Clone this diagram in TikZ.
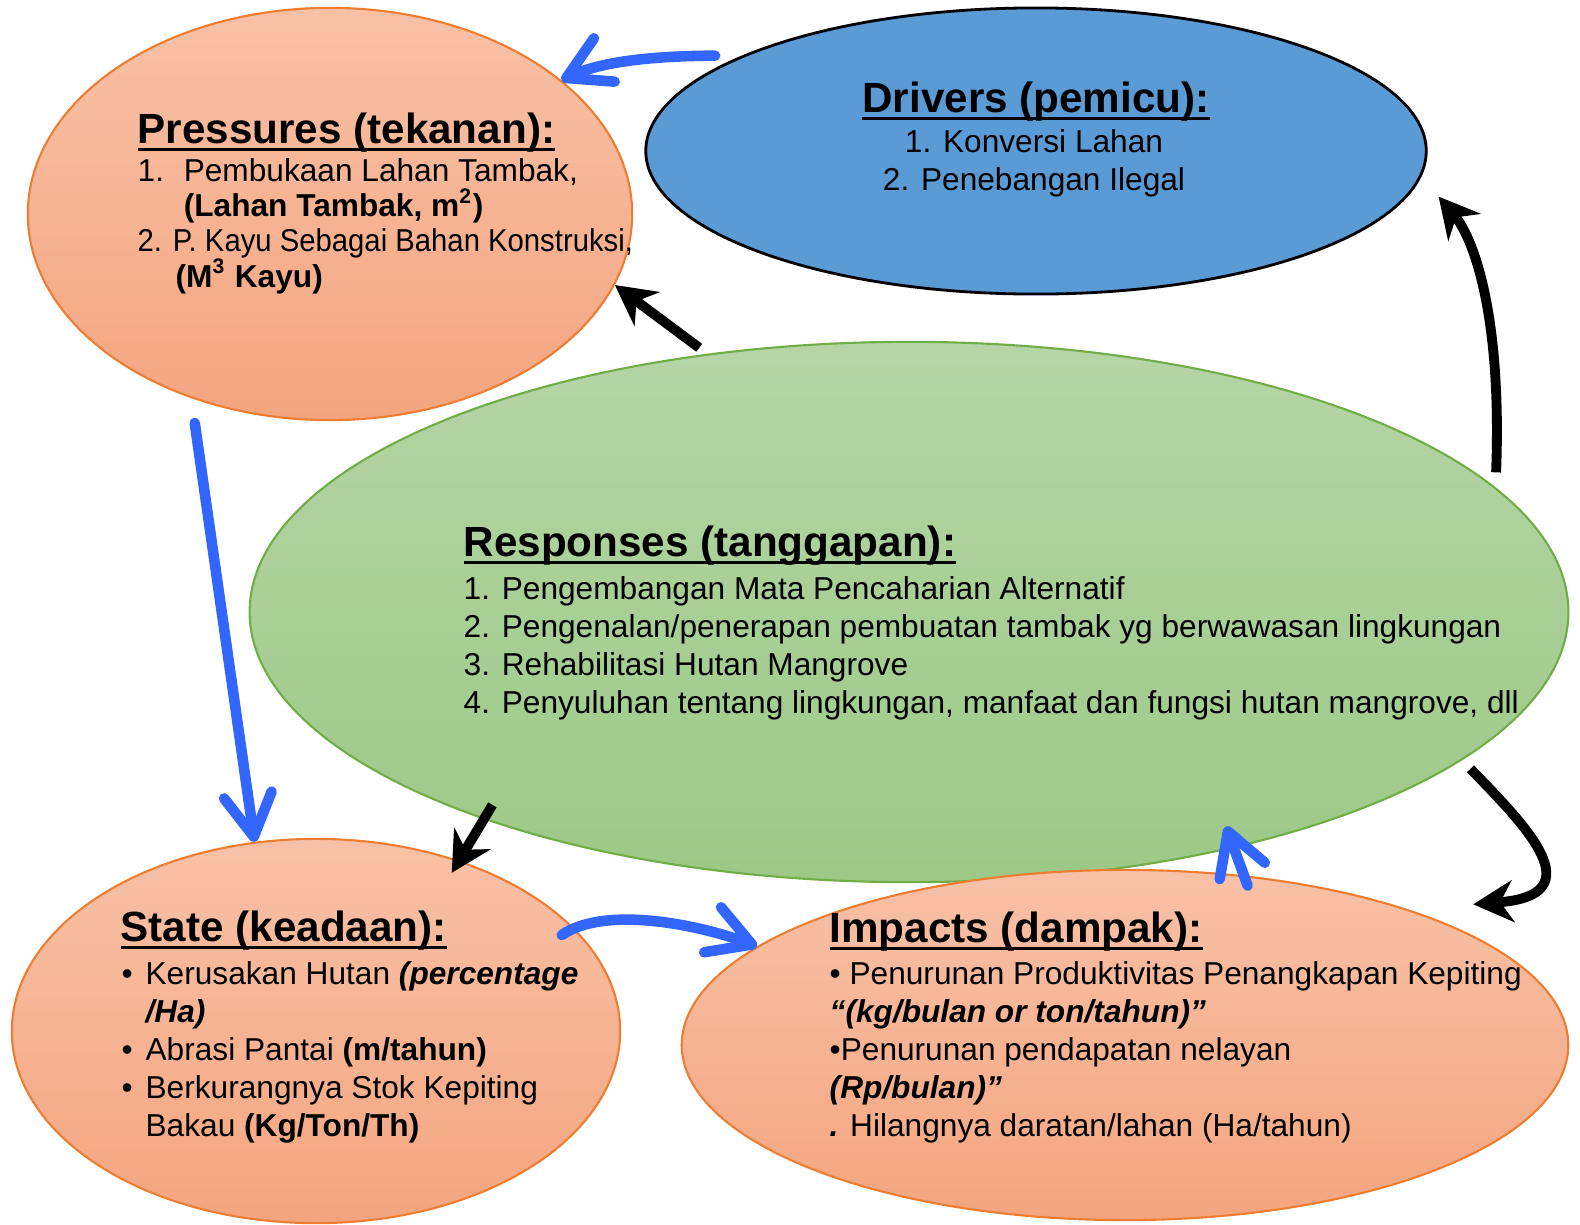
\documentclass[tikz,border=0pt]{standalone}
\usepackage{fontspec}
\usepackage{graphicx}
\setmainfont{Liberation Sans}
\usetikzlibrary{shapes.geometric,arrows.meta}

\definecolor{oranyeAtas}{HTML}{F8C1A7}
\definecolor{oranyeBawah}{HTML}{F4A57F}
\definecolor{oranyeGaris}{HTML}{ED7D31}
\definecolor{hijauAtas}{HTML}{B5D5A6}
\definecolor{hijauBawah}{HTML}{9CC986}
\definecolor{hijauGaris}{HTML}{70AD47}
\definecolor{biruIsi}{HTML}{5B9BD5}
\definecolor{biruPanah}{HTML}{3366FF}

\newcommand{\garisbawah}[1]{\sbox0{#1}\rlap{\rule[-2.4pt]{\wd0}{1.1pt}}\usebox0}
\newcommand{\tebal}[1]{\textbf{\textit{#1}}}

\tikzset{
    lingkaran/.style={ellipse, inner sep=0pt, line width=0.6pt},
    oranye/.style={lingkaran, draw=oranyeGaris, top color=oranyeAtas, bottom color=oranyeBawah},
    judul/.style={anchor=base west, inner sep=0pt, font=\fontsize{12}{14}\selectfont\bfseries},
    isi/.style={anchor=north west, inner sep=0pt, align=left, font=\fontsize{9}{10.8}\selectfont},
    panahbiru/.style={draw=biruPanah, line width=3pt, line cap=round, line join=round,
        -{Straight Barb[round,length=4.2mm,width=4.8mm]}},
    panahhitam/.style={line width=2.8pt, -{Stealth[length=4mm,width=4.2mm]}}
}

\begin{document}
\begin{tikzpicture}[x=0.01cm, y=-0.01cm]
    \useasboundingbox (0,0) rectangle (1580,1224);

    % elips DPSIR
    \node[oranye, minimum width=6.04cm, minimum height=4.12cm] (p) at (330,214) {};
    \node[lingkaran, draw=black, line width=0.8pt, fill=biruIsi,
        minimum width=7.8cm, minimum height=2.86cm] (d) at (1036,151) {};
    \node[lingkaran, draw=hijauGaris, top color=hijauAtas, bottom color=hijauBawah,
        minimum width=13.18cm, minimum height=5.4cm] (r) at (909,612) {};
    \node[oranye, minimum width=6.08cm, minimum height=3.84cm] (s) at (316,1031) {};
    \node[oranye, minimum width=8.86cm, minimum height=3.5cm] (i) at (1125,1045) {};

    % teks
    \node[judul] (p-judul) at (137,143) {\garisbawah{Pressures (tekanan):}};
    \node[isi, font=\fontsize{9}{10}\selectfont] (p-isi) at (137,158) {%
        \makebox[13.1pt][l]{1.}Pembukaan Lahan Tambak,\\
        \hspace*{13.1pt}\textbf{(Lahan Tambak, m\textsuperscript{2})}\\
        \scalebox{0.925}[1]{2. P. Kayu Sebagai Bahan Konstruksi,}\\
        \hspace*{10.8pt}\textbf{(M\textsuperscript{3} Kayu)}};

    \node[judul, anchor=base] (d-judul) at (1036,112) {\garisbawah{Drivers (pemicu):}};
    \node[isi, anchor=north, align=center] (d-isi) at (1034,129) {%
        1. Konversi Lahan\\
        2. Penebangan Ilegal};

    \node[judul] (r-judul) at (463,556) {\garisbawah{Responses (tanggapan):}};
    \node[isi] (r-isi) at (463,576) {%
        1. Pengembangan Mata Pencaharian Alternatif\\
        2. Pengenalan/penerapan pembuatan tambak yg berwawasan lingkungan\\
        3. Rehabilitasi Hutan Mangrove\\
        4. Penyuluhan tentang lingkungan, manfaat dan fungsi hutan mangrove, dll};

    \node[judul] (s-judul) at (120,941) {\garisbawah{State (keadaan):}};
    \node[isi] (s-isi) at (121,961) {%
        \makebox[6.8pt][l]{\textbullet}Kerusakan Hutan \tebal{(percentage}\\
        \hspace*{6.8pt}\tebal{/Ha)}\\
        \makebox[6.8pt][l]{\textbullet}Abrasi Pantai \textbf{(m/tahun)}\\
        \makebox[6.8pt][l]{\textbullet}Berkurangnya Stok Kepiting\\
        \hspace*{6.8pt}Bakau \textbf{(Kg/Ton/Th)}};

    \node[judul] (i-judul) at (829,942) {\garisbawah{Impacts (dampak):}};
    \node[isi] (i-isi) at (829,961) {%
        \textbullet{} Penurunan Produktivitas Penangkapan Kepiting\\
        \tebal{“(kg/bulan or ton/tahun)”}\\
        \textbullet Penurunan pendapatan nelayan\\
        \tebal{(Rp/bulan)”}\\
        \tebal{.} Hilangnya daratan/lahan (Ha/tahun)};

    % panah
    \draw[panahbiru, shorten <=0.27cm] (d.162.3) .. controls (650,56) and (600,62) .. (p.30.6);
    \draw[panahbiru, shorten <=0.25cm] (p.-127.5) -- (s.108);
    \draw[panahbiru, shorten <=-0.14cm] (s.22.5) .. controls (605,905) and (700,925) .. (i.165.7);
    \draw[panahbiru, shorten <=-0.11cm, shorten >=-0.23cm] (i.55.1) -- (r.-36.3);
    \draw[panahhitam, shorten <=0.1cm] (r.128.3) -- (p.-14.7);
    \draw[panahhitam, shorten <=-0.17cm, shorten >=-0.145cm] (r.206.9) -- (s.50.8);
    \draw[panahhitam, shorten <=0.15cm] (r.12.3) .. controls (1502,320) and (1475,240) .. ([xshift=0.31cm]d.-7);
    \draw[panahhitam, shorten <=0.12cm] (r.-15.3) .. controls (1525,825) and (1595,895) .. ([xshift=0.37cm,yshift=0.15cm]i.22);
\end{tikzpicture}
\end{document}
